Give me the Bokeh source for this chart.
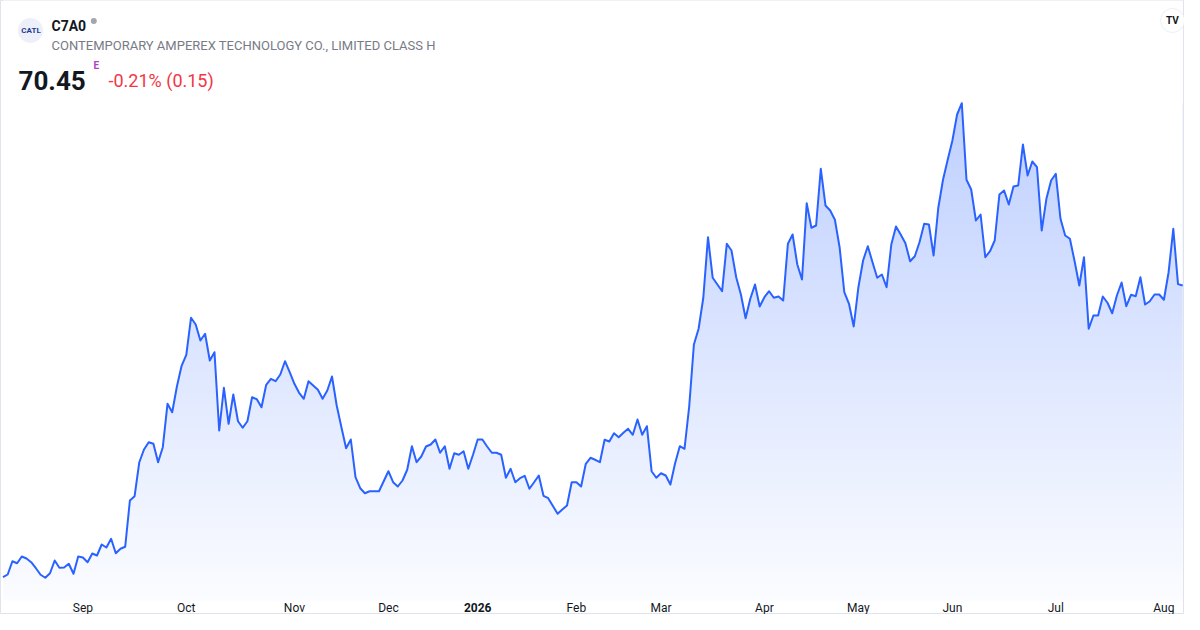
import numpy as np
from bokeh.plotting import figure
from bokeh.models import Range1d
from bokeh.core.properties import value
from bokeh.embed import file_html
from bokeh.resources import INLINE

# ---------------- data ----------------
symbol = "C7A0"
company = "CONTEMPORARY AMPEREX TECHNOLOGY CO., LIMITED CLASS H"
last_price = "70.45"
change_text = "-0.21% (0.15)"

prices = [
    38.36, 38.66, 40.12, 39.90, 40.64, 40.42, 40.01, 39.35, 38.63, 38.30,
    38.80, 40.20, 39.40, 39.43, 39.84, 38.74, 40.64, 40.53, 40.01, 40.97,
    40.75, 41.96, 41.63, 42.59, 41.00, 41.49, 41.71, 46.80, 47.27,
    51.01, 52.41, 53.21, 53.04, 51.01, 52.66, 57.44, 56.51, 59.34, 61.62,
    62.83, 66.90, 66.16, 64.40, 65.14, 62.20, 63.11, 54.50, 59.20, 55.24,
    58.46, 55.52, 54.80, 55.52, 58.16, 57.94,
    57.06, 59.53, 60.19, 59.92, 60.66, 62.12, 60.91, 59.64, 58.65, 57.99,
    59.92, 59.45, 58.98, 57.99, 58.90, 60.44, 57.25, 54.86, 52.55, 53.51,
    49.36, 48.15, 47.60, 47.82, 47.82, 47.82, 48.92, 50.02,
    48.81, 48.34, 49.00, 50.18, 52.77, 51.01, 51.64, 52.74, 52.96, 53.51,
    52.05, 52.77, 50.29, 52.00, 51.83, 52.22, 50.29, 51.83, 53.51, 53.51,
    52.74, 52.05, 52.05, 51.83, 49.30, 50.29, 48.81, 49.25, 49.52, 48.09,
    48.81, 49.55, 47.32, 47.05, 46.20,
    45.34, 45.81, 46.25, 48.81, 48.81, 48.34, 50.84, 51.50, 51.28, 51.01,
    53.48, 53.29, 54.20, 53.76, 54.25, 54.69, 54.03, 55.71, 54.03, 54.97,
    50.02, 49.30, 49.80, 49.55, 48.56, 50.90, 52.77, 52.49,
    57.14, 63.96, 65.69, 69.10, 75.76, 71.30, 70.56, 69.82, 75.04, 74.30,
    71.36, 69.46, 66.85, 68.99, 70.56, 68.14, 69.16, 69.82, 69.10, 69.24,
    68.80, 75.04, 76.06, 72.76, 71.11, 79.50, 76.80, 77.05, 83.29, 79.25,
    78.70, 77.68,
    74.66, 69.71, 68.44, 65.94, 70.26, 73.20, 74.77, 73.01, 71.30, 71.66,
    70.26, 74.96, 76.94, 76.06, 75.10, 73.12, 73.67, 75.21, 77.24, 77.16,
    73.75, 79.00, 82.08, 84.28, 86.40, 89.26, 90.50, 82.08, 81.01, 77.60,
    78.26,
    73.56, 74.22, 75.40, 80.46, 80.90, 79.36, 81.34, 81.45, 85.96, 82.55,
    84.09, 83.46, 76.50, 79.99, 82.00, 82.74, 77.79, 75.95, 75.59, 73.12,
    70.45, 73.56, 65.69, 67.15, 67.15, 69.24, 68.55, 67.40, 69.35, 70.78,
    68.17, 69.43, 69.27, 71.36, 68.36, 68.72, 69.46, 69.46, 68.88, 71.91,
    76.69, 70.60, 70.45,
]

month_idx = [17, 39, 62, 82, 101, 122, 140, 162, 182, 202, 224, 247]
month_labels = ["Sep", "Oct", "Nov", "Dec", "2026", "Feb", "Mar", "Apr",
                "May", "Jun", "Jul", "Aug"]
month_styles = ["normal", "normal", "normal", "normal", "bold", "normal",
                "normal", "normal", "normal", "normal", "normal", "normal"]

# ---------------- layout helpers (figure pixels) ----------------
W, H = 1184, 614
START, STEP = 2.5, 4.70         # px of first point, px per trading day
X0 = -START / STEP
X1 = X0 + W / STEP
PPX = 0.11                      # price units per pixel
Y1 = 101.80                     # price at the top edge
Y0 = Y1 - H * PPX


def px2x(xpx):
    return (xpx - START) / STEP


def py(ypx):
    return Y1 - ypx * PPX


FONT = value("Roboto")
BLUE = "#2962FF"

p = figure(width=W, height=H, x_range=Range1d(X0, X1), y_range=Range1d(Y0, Y1),
           output_backend="svg", toolbar_location=None, min_border=0,
           x_axis_type=None, y_axis_type=None, outline_line_color="#e0e3eb",
           background_fill_color="white", border_fill_color="white")
p.xgrid.visible = False
p.ygrid.visible = False

x = list(range(len(prices)))
floor = py(600)
top = max(prices)

# vertical gradient under the series
N = 300
img = np.empty((N, 1), dtype=np.uint32)
view = img.view(dtype=np.uint8).reshape((N, 1, 4))
for i in range(N):
    t = i / (N - 1)
    a = 0.02 + 0.28 * t
    view[i, 0, 0] = int(round(255 - a * (255 - 41)))
    view[i, 0, 1] = int(round(255 - a * (255 - 98)))
    view[i, 0, 2] = 255
    view[i, 0, 3] = 255
p.image_rgba(image=[img], x=0, y=floor, dw=len(prices) - 1, dh=top - floor)

# white mask above the series
p.varea(x=x, y1=prices, y2=[Y1 + 5] * len(prices), fill_color="white")

# series line
p.line(x, prices, line_color=BLUE, line_width=2, line_join="round")

# x tick labels
p.text(x=month_idx, y=[py(607)] * len(month_idx), text=month_labels,
       text_font=FONT, text_font_size="12px", text_color="#131722",
       text_align="center", text_baseline="middle", text_font_style=month_styles)

# ---------------- header ----------------
p.scatter(x=[px2x(30)], y=[py(30)], size=25, marker="circle",
          fill_color="#edf0f9", line_color=None)
p.text(x=[px2x(30.5)], y=[py(30)], text=["CATL"], text_font=FONT,
       text_font_size="8px", text_font_style="bold", text_color="#1d3c8f",
       text_align="center", text_baseline="middle")
p.text(x=[px2x(51)], y=[py(25.7)], text=[symbol], text_font=FONT,
       text_font_size="14px", text_font_style="bold", text_color="#131722",
       text_baseline="alphabetic")
p.scatter(x=[px2x(93.3)], y=[py(20.5)], size=6, marker="circle",
          fill_color="#a3a6af", line_color=None)
p.text(x=[px2x(51)], y=[py(45.3)], text=[company], text_font=FONT,
       text_font_size="13px", text_color="#787b86", text_baseline="alphabetic")
p.text(x=[px2x(18)], y=[py(80)], text=[last_price], text_font=FONT,
       text_font_size="26px", text_font_style="bold", text_color="#131722",
       text_baseline="alphabetic")
p.text(x=[px2x(93)], y=[py(64.5)], text=["E"], text_font=FONT,
       text_font_size="10px", text_font_style="bold", text_color="#ab47bc",
       text_baseline="alphabetic")
p.text(x=[px2x(108)], y=[py(79.5)], text=[change_text], text_font=FONT,
       text_font_size="18px", text_color="#f23645", text_baseline="alphabetic")
p.scatter(x=[px2x(1172)], y=[py(20)], size=24, marker="circle",
          fill_color="white", line_color="#eceef2")
p.text(x=[px2x(1172)], y=[py(20)], text=["TV"], text_font=FONT,
       text_font_size="10px", text_font_style="bold", text_color="#131722",
       text_align="center", text_baseline="middle")

open("out.html", "w").write(file_html(p, INLINE))
